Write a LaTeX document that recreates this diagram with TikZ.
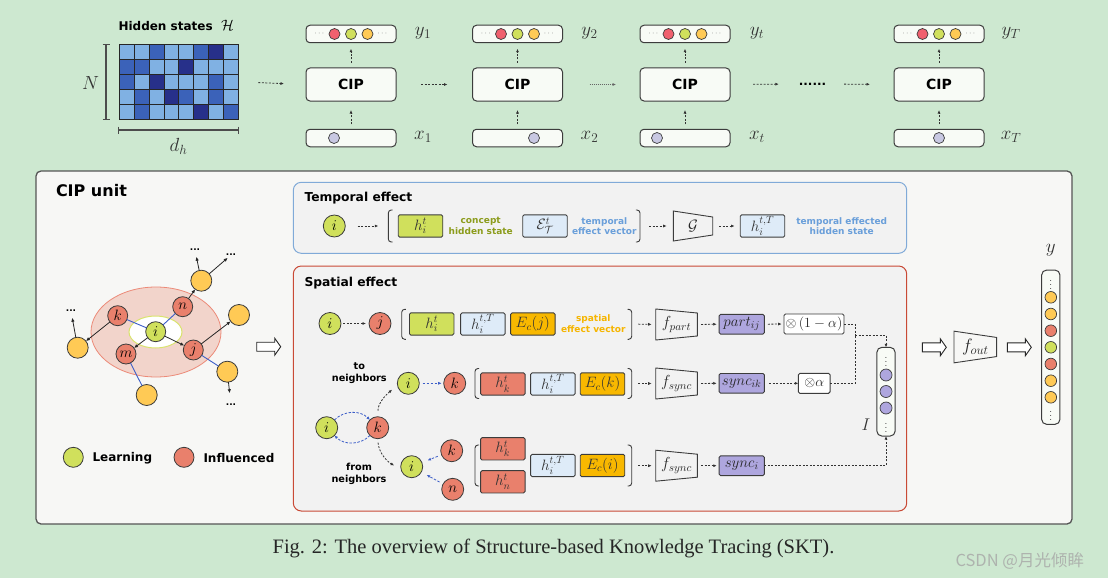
\RequirePackage{fix-cm}
\documentclass[tikz,border=0pt]{standalone}
\usepackage{amsmath}
\usepackage{fontspec}
\newfontfamily\dvs{DejaVu Sans}
\newfontfamily\capfont{Liberation Serif}
\newfontfamily\cjkfont{Noto Sans CJK SC}
\usetikzlibrary{arrows.meta}

\definecolor{bggreen}{HTML}{CDE8D0}
\definecolor{unitfill}{HTML}{F7F7F5}
\definecolor{unitborder}{HTML}{555555}
\definecolor{innerfill}{HTML}{F2F2F2}
\definecolor{boxw}{HTML}{F8FBF6}
\definecolor{lineg}{HTML}{3C3C3C}
\definecolor{cgreen}{HTML}{D0E05C}
\definecolor{cred}{HTML}{E9806C}
\definecolor{cpink}{HTML}{F0606E}
\definecolor{cyel}{HTML}{FFCA55}
\definecolor{cpurpg}{HTML}{C8C8E2}
\definecolor{cpurp}{HTML}{AEA6DE}
\definecolor{corange}{HTML}{F8B800}
\definecolor{clblue}{HTML}{DEEBF8}
\definecolor{tblue}{HTML}{6A9FDA}
\definecolor{tborder}{HTML}{80AAD8}
\definecolor{tolive}{HTML}{8C9C1C}
\definecolor{torange}{HTML}{F6B500}
\definecolor{sborder}{HTML}{C94A36}
\definecolor{pinkell}{HTML}{F2D4CB}
\definecolor{pinkbd}{HTML}{EC8A78}
\definecolor{wellbd}{HTML}{D9E36E}
\definecolor{cblue}{HTML}{3C5EC8}
\definecolor{matL}{HTML}{80B1E3}
\definecolor{matM}{HTML}{3B62B9}
\definecolor{matD}{HTML}{27308A}
\definecolor{arrg}{HTML}{333333}
\definecolor{wmgray}{HTML}{AEB3AE}

\tikzset{
  every node/.style={inner sep=0pt, outer sep=0pt},
  cipbox/.style={draw=lineg, fill=boxw, rounded corners=4pt, minimum width=90pt, minimum height=33pt, line width=1pt, font=\dvs\bfseries\fontsize{14}{16}\selectfont},
  vecbox/.style={draw=lineg, fill=boxw, rounded corners=4pt, minimum width=90pt, minimum height=17.5pt, line width=1pt},
  vbox/.style={draw=lineg, fill=boxw, rounded corners=5pt, line width=1pt},
  dotc/.style={circle, draw=lineg, line width=0.7pt, minimum size=11pt},
  smdots/.style={font=\fontsize{8}{9}\selectfont, text=black!60},
  vdot/.style={font=\fontsize{10}{11}\selectfont, text=black!80},
  lbl/.style={font=\fontsize{19}{21}\selectfont, text=black!80},
  dar/.style={dash pattern=on 2pt off 1.5pt, -{Latex[length=3.5pt,width=3pt]}, draw=arrg, line width=0.8pt},
  dline/.style={dash pattern=on 2pt off 1.5pt, draw=arrg, line width=0.8pt},
  bdar/.style={dash pattern=on 2.5pt off 1.5pt, -{Latex[length=3.5pt,width=3pt]}, draw=cblue, line width=0.8pt},
  kar/.style={-{Latex[length=4pt,width=3.5pt]}, draw=black!85, line width=0.8pt},
  bline/.style={draw=cblue, line width=0.9pt},
  gnode/.style={circle, draw=lineg, fill=cgreen, line width=0.8pt, minimum size=20pt, font=\fontsize{15}{17}\selectfont},
  rnode/.style={circle, draw=lineg, fill=cred, line width=0.8pt, minimum size=20pt, font=\fontsize{15}{17}\selectfont},
  ynode/.style={circle, draw=lineg, fill=cyel, line width=0.8pt, minimum size=21pt},
  gdots/.style={font=\dvs\bfseries\fontsize{9}{10}\selectfont},
  mbox/.style={draw=lineg, line width=0.9pt, rounded corners=1.5pt, minimum width=44.5pt, minimum height=22.3pt, font=\fontsize{15}{17}\selectfont, text=black!80},
  pbox/.style={draw=lineg, fill=cpurp, line width=0.9pt, rounded corners=1.5pt, minimum width=45.3pt, minimum height=19.7pt, font=\fontsize{15}{17}\selectfont, text=black!85},
  wbox/.style={draw=lineg, fill=white, line width=0.9pt, rounded corners=1.5pt, minimum height=20pt, font=\fontsize{14}{16}\selectfont, text=black!85},
  brk/.style={draw=lineg, line width=0.9pt, rounded corners=3pt},
  trapline/.style={draw=lineg, line width=0.9pt},
  hollowar/.style={draw=black!85, fill=white, line width=0.9pt},
  smalltxt/.style={font=\dvs\bfseries\fontsize{9}{10.3}\selectfont, align=center},
  nbtxt/.style={font=\dvs\bfseries\fontsize{9.7}{11.5}\selectfont, align=center},
  titletxt/.style={anchor=west, font=\dvs\bfseries\fontsize{12.3}{14}\selectfont},
  legtxt/.style={anchor=west, font=\dvs\bfseries\fontsize{12}{14}\selectfont},
  brline/.style={draw=black!70, line width=1.2pt}
}

\newcommand\trapz[8]{% name, x, y, w, h, inset, fontsize, label
  \node[minimum width=#4pt, minimum height=#5pt, font=\fontsize{#7}{#7}\selectfont, text=black!85] (#1) at (#2,#3) {#8};
  \draw[trapline] (#1.north west) -- ([yshift=-#6pt]#1.north east) -- ([yshift=#6pt]#1.south east) -- (#1.south west) -- cycle;}
\newcommand\harrow[3]{%
  \coordinate (#1) at (#2,#3);
  \draw[hollowar] (#2,#3-4.5) -- (#2+18,#3-4.5) -- (#2+18,#3-8.5) -- (#2+24,#3) -- (#2+18,#3+8.5) -- (#2+18,#3+4.5) -- (#2,#3+4.5) -- cycle;}
\newcommand\lbrk[3]{\draw[brk] (#1+4.2,#2) -- (#1,#2) -- (#1,#3) -- (#1+4.2,#3);}
\newcommand\rbrk[3]{\draw[brk] (#1-4.2,#2) -- (#1,#2) -- (#1,#3) -- (#1-4.2,#3);}

\begin{document}
\begin{tikzpicture}[x=1pt,y=-1pt]
\fill[bggreen] (0,0) rectangle (1108,578);
\useasboundingbox (0,0) rectangle (1108,578);

% ---------------- top row ----------------
\node[anchor=west, font=\dvs\bfseries\fontsize{12}{14}\selectfont] (hstitle) at (118.5,25) {Hidden states\ \ {\fontsize{15}{15}\selectfont$\mathcal{H}$}};
\node[minimum width=119pt, minimum height=75pt] (mat) at (178.8,81.8) {};
\foreach \row [count=\r from 0] in {{L,L,M,L,L,M,D,L},{M,M,L,L,D,L,L,L},{M,L,D,L,L,L,M,L},{L,M,L,D,M,L,M,L},{L,M,L,L,L,D,L,M}}{
  \foreach \c [count=\k from 0] in \row {
    \draw[draw=black!85, line width=0.8pt, fill=mat\c] (119.3+\k*14.875,44.3+\r*15) rectangle ++(14.875,15);
  }
}
\draw[brline] (106,44.3) -- (106,119.3);
\draw[brline] (102.5,44.3) -- (109.5,44.3);
\draw[brline] (102.5,119.3) -- (109.5,119.3);
\node[lbl] (Nlab) at (90.5,83) {$N$};
\draw[brline] (118.5,130) -- (238.5,130);
\draw[brline] (118.5,126.5) -- (118.5,133.5);
\draw[brline] (238.5,126.5) -- (238.5,133.5);
\node[lbl] (dhlab) at (178.5,146) {$d_h$};

\foreach \cx/\lab/\off/\nm in {351/1/-17/a,517.5/2/16.5/b,685/t/-28/c,939/T/0/d}{
  \node[cipbox] (cip\nm) at (\cx,84.5) {CIP};
  \node[vecbox] (yv\nm) at (\cx,34) {};
  \node[dotc, fill=cpink] (yv\nm1) at (\cx-16.5,34) {};
  \node[dotc, fill=cgreen] (yv\nm2) at (\cx,34) {};
  \node[dotc, fill=cyel] (yv\nm3) at (\cx+16.5,34) {};
  \node[smdots] (yv\nm4) at (\cx-31,34) {$\cdots$};
  \node[smdots] (yv\nm5) at (\cx+32,34) {$\cdots$};
  \node[vecbox] (xv\nm) at (\cx,138) {};
  \node[dotc, fill=cpurpg] (xv\nm1) at (\cx+\off,138) {};
  \node[lbl] (ylab\nm) at (\cx+72,33) {$y_{\lab}$};
  \node[lbl] (xlab\nm) at (\cx+72,137) {$x_{\lab}$};
  \draw[dar, shorten <=5pt, shorten >=9pt] (xv\nm.north) -- (cip\nm.south);
  \draw[dar, shorten <=5pt, shorten >=6pt] (cip\nm.north) -- (yv\nm.south);
}
\node[font=\dvs\bfseries\fontsize{12}{14}\selectfont] (ellip) at (812.5,84) {......};
\draw[dar, shorten <=20pt, shorten >=22pt] (mat.east) -- (cipa.west);
\draw[dar, shorten <=25pt, shorten >=25pt] (cipa.east) -- (cipb.west);
\draw[dar, draw=black!60, dash pattern=on 1pt off 1pt, line width=0.6pt, shorten <=27pt, shorten >=24pt] (cipb.east) -- (cipc.west);
\draw[dar, shorten <=23pt, shorten >=20pt] (cipc.east) -- (ellip.west);
\draw[dar, shorten <=18pt, shorten >=24pt] (ellip.east) -- (cipd.west);

% ---------------- CIP unit ----------------
\node[draw=unitborder, fill=unitfill, rounded corners=5pt, line width=1.3pt, minimum width=1036pt, minimum height=353pt] (unit) at (554,347.5) {};
\node[anchor=west, font=\dvs\bfseries\fontsize{16}{18}\selectfont] (unittitle) at (56,191) {CIP unit};

% graph
\draw[draw=pinkbd, fill=pinkell, line width=0.8pt] (156,332) ellipse [x radius=65pt, y radius=45pt];
\draw[draw=wellbd, fill=white, line width=1pt] (155.5,332) ellipse [x radius=26.5pt, y radius=16pt];
\node[gnode] (gi) at (155.7,331.7) {$i$};
\node[rnode] (gk) at (117.7,315.7) {$k$};
\node[rnode] (gn) at (182.7,306.7) {$n$};
\node[rnode] (gm) at (126,354) {$m$};
\node[rnode] (gj) at (193.3,350) {$j$};
\node[ynode] (yt) at (201.3,280.7) {};
\node[ynode] (yr) at (239,315) {};
\node[ynode] (yl) at (77.7,347.7) {};
\node[ynode] (yb) at (146.7,395) {};
\node[ynode] (ybr) at (227.3,371.7) {};
\draw[bline] (gk) -- (gi);
\draw[bline] (gn) -- (gi);
\draw[bline] (gm) -- (yb);
\draw[bline] (gj) -- (ybr);
\draw[kar] (gi) -- (gm);
\draw[kar] (gi) -- (gj);
\draw[kar] (gk) -- (yl);
\draw[kar] (gn) -- (yt);
\draw[kar] (gj) -- (yr);
\node[gdots] (d1) at (195,250) {...};
\node[gdots] (d2) at (231,255) {...};
\node[gdots] (d3) at (71,311) {...};
\node[gdots] (d4) at (231,405) {...};
\draw[kar, shorten >=6pt] (yt) -- (d1);
\draw[kar, shorten >=3pt] (yt) -- (d2);
\draw[kar, shorten >=6pt] (yl) -- (d3);
\draw[kar, shorten >=11pt] (ybr) -- (d4);

% legend
\node[gnode] (lg) at (73.3,457.3) {};
\node[legtxt] (lgt) at (92.5,457.8) {Learning};
\node[rnode] (lr) at (184,457.3) {};
\node[legtxt] (lrt) at (203.5,457.8) {Influenced};

\harrow{ha1}{256.7}{346.7}

% ---------------- temporal effect ----------------
\node[draw=tborder, fill=innerfill, rounded corners=8pt, line width=1pt, minimum width=613.4pt, minimum height=71pt] (tbox) at (600,217.8) {};
\node[titletxt] (ttitle) at (304.5,197.7) {Temporal effect};
\node[gnode, minimum size=22pt] (ti) at (334.3,226) {$i$};
\coordinate (tbl) at (388.3,226);
\lbrk{388.3}{210}{242}
\node[mbox, fill=cgreen] (th) at (420.5,226) {$h_i^t$};
\node[smalltxt, text=tolive] (tht) at (480.7,226) {concept\\hidden state};
\node[mbox, fill=clblue] (tE) at (545,226) {$\mathcal{E}_{\mathcal{T}}^t$};
\node[smalltxt, text=tblue] (tEt) at (604.3,226) {temporal\\effect vector};
\rbrk{640}{210}{242}
\coordinate (tbr) at (640,226);
\trapz{tG}{693}{226}{39.4}{30}{6}{15}{$\mathcal{G}$}
\node[mbox, fill=clblue] (thT) at (762.5,226) {$h_i^{t,T}$};
\node[smalltxt, text=tblue] (thTt) at (841.7,226) {temporal effected\\hidden state};
\draw[dar, shorten <=12.4pt, shorten >=10pt] (ti.east) -- (tbl);
\draw[dar, shorten <=9pt, shorten >=6.6pt] (tbr) -- (tG.west);
\draw[dar, shorten <=6.3pt, shorten >=5.7pt] (tG.east) -- (thT.west);

% ---------------- spatial effect ----------------
\node[draw=sborder, fill=innerfill, rounded corners=8pt, line width=1pt, minimum width=613.4pt, minimum height=245pt] (sbox) at (600,388.5) {};
\node[titletxt] (stitle) at (304.5,282.7) {Spatial effect};

% row 1
\node[gnode, minimum size=22pt] (s1i) at (330,323.5) {$i$};
\node[rnode, minimum size=22pt] (s1j) at (380,323.5) {$j$};
\draw[dar, shorten <=2.3pt, shorten >=3pt] (s1i) -- (s1j);
\lbrk{401.7}{309.3}{339.3}
\node[mbox, fill=cgreen] (s1h) at (431.7,324) {$h_i^t$};
\node[mbox, fill=clblue] (s1hT) at (482.8,324) {$h_i^{t,T}$};
\node[mbox, fill=corange] (s1E) at (532.8,324) {$E_c(j)$};
\node[smalltxt, text=torange] (s1t) at (593.3,323.5) {spatial\\effect vector};
\rbrk{631.7}{309.3}{339.3}
\coordinate (b1r) at (631.7,324);
\trapz{fpart}{676.5}{324.5}{41.6}{31}{4}{16}{$f_{part}$}
\node[pbox] (part) at (741.7,324.2) {$part_{ij}$};
\node[wbox, minimum width=60pt] (mul1) at (814,324) {$\otimes\,(1-\alpha)$};
\draw[dar, shorten <=6.6pt, shorten >=4pt] (b1r) -- (fpart.west);
\draw[dar, shorten <=3.7pt, shorten >=2.3pt] (fpart.east) -- (part.west);
\draw[dar, shorten <=3.4pt, shorten >=2.3pt] (part.east) -- (mul1.west);

% row 2
\node[nbtxt] (tonb) at (359.3,373) {to\\neighbors};
\node[gnode, minimum size=22pt] (s2i) at (408.3,383.3) {$i$};
\node[rnode, minimum size=22pt] (s2k) at (454.7,383.3) {$k$};
\draw[bdar, shorten <=3.4pt, shorten >=2pt] (s2i) -- (s2k);
\lbrk{475}{368.5}{398.5}
\node[mbox, fill=cred] (s2h) at (502.8,384) {$h_k^t$};
\node[mbox, fill=clblue] (s2hT) at (552.8,384) {$h_i^{t,T}$};
\node[mbox, fill=corange] (s2E) at (602.5,384) {$E_c(k)$};
\rbrk{631.7}{368.5}{398.5}
\coordinate (b2r) at (631.7,383.5);
\trapz{fsync1}{676.5}{383.5}{41.6}{31}{4}{16}{$f_{sync}$}
\node[pbox] (sync1) at (741.7,383.3) {$sync_{ik}$};
\node[wbox, minimum width=31.7pt] (mul2) at (814.2,383.3) {$\otimes\alpha$};
\draw[dar, shorten <=6.6pt, shorten >=4pt] (b2r) -- (fsync1.west);
\draw[dar, shorten <=3.7pt, shorten >=2.3pt] (fsync1.east) -- (sync1.west);
\draw[dar, shorten <=4.7pt] (sync1.east) -- (mul2.west);

% row 3
\node[gnode, minimum size=22pt] (s3i) at (326.7,427.7) {$i$};
\node[rnode, minimum size=22pt] (s3k) at (377.7,427.7) {$k$};
\draw[bdar] (s3i.45) to[bend left=45] (s3k.135);
\draw[bdar] (s3k.-135) to[bend left=45] (s3i.-45);
\draw[dar, shorten <=6pt, shorten >=7pt] (s3k.north) to[out=88,in=220] (s2i.190);
\node[nbtxt] (fromnb) at (359,474) {from\\neighbors};
\node[gnode, minimum size=22pt] (s3li) at (411.7,466.7) {$i$};
\node[rnode, minimum size=22pt] (s3lk) at (451.7,450.7) {$k$};
\node[rnode, minimum size=22pt] (s3ln) at (452.7,489.3) {$n$};
\draw[dar, shorten <=4pt, shorten >=8pt] (s3k.south) to[out=-85,in=150] (s3li.195);
\draw[bdar, shorten <=4pt, shorten >=6pt] (s3lk) -- (s3li);
\draw[bdar, shorten <=4pt, shorten >=6pt] (s3ln) -- (s3li);
\lbrk{475}{445}{486}
\node[mbox, fill=cred] (s3hk) at (502.8,448.8) {$h_k^t$};
\node[mbox, fill=cred] (s3hn) at (502.8,481.8) {$h_n^t$};
\node[mbox, fill=clblue] (s3hT) at (552.8,465.5) {$h_i^{t,T}$};
\node[mbox, fill=corange] (s3E) at (602.5,465.5) {$E_c(i)$};
\rbrk{631.7}{445}{486}
\coordinate (b3r) at (631.7,465.7);
\trapz{fsync2}{676.5}{465.7}{41.6}{31}{4}{16}{$f_{sync}$}
\node[pbox] (sync2) at (741.7,465.7) {$sync_{i}$};
\draw[dar, shorten <=6.6pt, shorten >=4pt] (b3r) -- (fsync2.west);
\draw[dar, shorten <=3.7pt, shorten >=2.3pt] (fsync2.east) -- (sync2.west);

% I vector
\node[vbox, minimum width=18.3pt, minimum height=88.7pt] (Ivec) at (886,391.7) {};
\node[vdot] (Iv1) at (886,359.3) {$\vdots$};
\foreach \yy [count=\q] in {375,391.5,408} \node[dotc, fill=cpurp, minimum size=12pt] (Ic\q) at (886,\yy) {};
\node[vdot] (Iv2) at (886,425) {$\vdots$};
\node[font=\fontsize{17}{19}\selectfont, text=black!80] (Ilab) at (866,425) {$I$};
\coordinate (mrg) at (855,335);
\draw[dline] (mul1.east) -| (mrg);
\draw[dline] (mul2.east) -| (mrg);
\draw[dar] (mrg) -| (Ivec.north);
\draw[dar] (sync2.east) -| (Ivec.south);

% ---------------- output ----------------
\harrow{ha2}{922.3}{347.3}
\trapz{fout}{975.3}{347}{42.7}{31.7}{6.3}{18}{$f_{out}$}
\harrow{ha3}{1007.3}{347.3}
\node[vbox, minimum width=18.3pt, minimum height=154.3pt] (yvec) at (1050.8,347.2) {};
\node[vdot] (yd1) at (1050.8,281.7) {$\vdots$};
\foreach \yy/\cc [count=\q] in {297.3/cyel,314/cyel,330.7/cred,347.3/cgreen,364/cred,380.7/cyel,397.3/cyel}
  \node[dotc, fill=\cc, minimum size=11.6pt] (yc\q) at (1050.8,\yy) {};
\node[vdot] (yd2) at (1050.8,412.7) {$\vdots$};
\node[lbl] (ylab) at (1050.7,250) {$y$};

% caption
\node[font=\capfont\fontsize{20.5}{24}\selectfont, text=black!85] (cap) at (553.5,548) {Fig. 2: The overview of Structure-based Knowledge Tracing (SKT).};
\node[anchor=west, font=\cjkfont\fontsize{16.5}{18}\selectfont, text=wmgray] (wm) at (955.5,560.7) {CSDN @月光倾眸};
\end{tikzpicture}
\end{document}
